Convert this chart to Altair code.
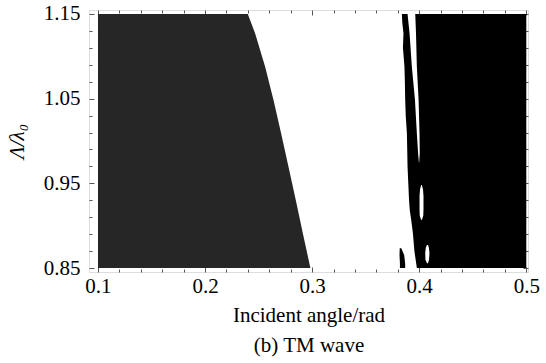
import altair as alt
import pandas as pd

# ---- axis ticks ----
X_TICKS = [0.1, 0.2, 0.3, 0.4, 0.5]
X_MINOR = [0.12, 0.14, 0.16, 0.18, 0.22, 0.24, 0.26, 0.28, 0.32, 0.34, 0.36, 0.38,
           0.42, 0.44, 0.46, 0.48]
Y_TICKS = [0.85, 0.95, 1.05, 1.15]
Y_MINOR = [0.87, 0.89, 0.91, 0.93, 0.97, 0.99, 1.01, 1.03, 1.07, 1.09, 1.11, 1.13]
X_MIN, X_MAX = 0.1, 0.5
X_DOMAIN = [0.0916, 0.5016]
Y_DOMAIN = [0.8453, 1.1547]

# ---- dark (grey) region: from X_MIN to boundary ----
DARK_Y = [0.85, 0.8516, 0.8911, 0.9304, 0.9697, 1.0092, 1.0485, 1.0878, 1.1272, 1.15]
DARK_X = [0.2985, 0.2981, 0.2913, 0.2847, 0.2779, 0.2710, 0.2639, 0.2561, 0.2467, 0.2399]

# ---- black region: from left edge to X_MAX ----
BLACK_Y = [0.85, 0.870, 0.891, 0.907, 0.918, 0.930, 0.950, 0.970, 0.990, 1.009, 1.030,
           1.049, 1.070, 1.088, 1.110, 1.127, 1.140, 1.15]
BLACK_X = [0.3978, 0.3955, 0.3941, 0.3925, 0.3912, 0.3905, 0.3898, 0.3891, 0.3888, 0.3885,
           0.3874, 0.3869, 0.3866, 0.3862, 0.3848, 0.3853, 0.3842, 0.3838]

# ---- white gap and white islands inside black region ----
GAP_Y = [0.9737, 0.985, 1.009, 1.049, 1.088, 1.127, 1.15]
GAP_L = [0.3998, 0.3990, 0.3978, 0.3960, 0.3931, 0.3910, 0.3891]
GAP_R = [0.3999, 0.4005, 0.4003, 0.3994, 0.3978, 0.3970, 0.3963]

ISL1_Y = [0.907, 0.912, 0.920, 0.935, 0.943, 0.948]
ISL1_L = [0.4017, 0.4005, 0.4003, 0.4003, 0.4008, 0.4018]
ISL1_R = [0.4026, 0.4038, 0.4040, 0.4040, 0.4035, 0.4024]

ISL2_Y = [0.8557, 0.860, 0.868, 0.874, 0.8773]
ISL2_L = [0.4072, 0.4058, 0.4056, 0.4062, 0.4072]
ISL2_R = [0.4082, 0.4092, 0.4096, 0.4090, 0.4082]

# ---- small black blob at the bottom ----
BLOB_Y = [0.85, 0.855, 0.865, 0.8734]
BLOB_L = [0.3820, 0.3820, 0.3816, 0.3818]
BLOB_R = [0.3869, 0.3869, 0.3860, 0.3833]

FONT = "Liberation Serif"
FS = 21

dark_df = pd.DataFrame({"y": DARK_Y, "xl": [X_MIN] * len(DARK_Y), "xr": DARK_X})
black_df = pd.DataFrame({"y": BLACK_Y, "xl": BLACK_X, "xr": [X_MAX] * len(BLACK_Y)})
white_df = pd.concat([
    pd.DataFrame({"y": GAP_Y, "xl": GAP_L, "xr": GAP_R, "part": "gap"}),
    pd.DataFrame({"y": ISL1_Y, "xl": ISL1_L, "xr": ISL1_R, "part": "i1"}),
    pd.DataFrame({"y": ISL2_Y, "xl": ISL2_L, "xr": ISL2_R, "part": "i2"}),
], ignore_index=True)
blob_df = pd.DataFrame({"y": BLOB_Y, "xl": BLOB_L, "xr": BLOB_R})

xs = alt.Scale(domain=X_DOMAIN, nice=False, zero=False)
ys = alt.Scale(domain=Y_DOMAIN, nice=False, zero=False)

common_axis = dict(domain=False, grid=False, tickColor="#555555", tickWidth=1)

ax_bottom = alt.Axis(orient="bottom", values=X_TICKS, format=".1f", tickSize=5, offset=-5,
                     labelPadding=3, labelFont=FONT, labelFontSize=FS, labelColor="black",
                     title=["Incident angle/rad", "(b) TM wave"], titleFont=FONT,
                     titleFontSize=FS, titleFontWeight="normal", titleColor="black",
                     titleLineHeight=30, titlePadding=8, **common_axis)
ax_left = alt.Axis(orient="left", values=Y_TICKS, format=".2f", tickSize=5, offset=-5,
                   labelPadding=9, labelFont=FONT, labelFontSize=FS, labelColor="black",
                   title="Λ/λ₀", titleFont=FONT, titleFontSize=FS, titleFontStyle="italic",
                   titleFontWeight="normal", titleColor="black", titlePadding=16,
                   **common_axis)
ax_bottom_minor = alt.Axis(orient="bottom", values=X_MINOR, tickSize=3, offset=-3,
                           labels=False, title=None, **common_axis)
ax_left_minor = alt.Axis(orient="left", values=Y_MINOR, tickSize=3, offset=-3,
                         labels=False, title=None, **common_axis)
ax_top = alt.Axis(orient="top", values=X_TICKS, tickSize=5, offset=-5,
                  labels=False, title=None, **common_axis)
ax_right = alt.Axis(orient="right", values=Y_TICKS, tickSize=5, offset=-5,
                    labels=False, title=None, **common_axis)
ax_top_minor = alt.Axis(orient="top", values=X_MINOR, tickSize=3, offset=-3,
                        labels=False, title=None, **common_axis)
ax_right_minor = alt.Axis(orient="right", values=Y_MINOR, tickSize=3, offset=-3,
                          labels=False, title=None, **common_axis)

dark = alt.Chart(dark_df).mark_area(orient="horizontal", color="#262626").encode(
    y=alt.Y("y:Q", scale=ys, axis=ax_left),
    x=alt.X("xl:Q", scale=xs, axis=ax_bottom, stack=None),
    x2="xr:Q",
)
black = alt.Chart(black_df).mark_area(orient="horizontal", color="#000000").encode(
    y=alt.Y("y:Q", scale=ys, axis=ax_left_minor),
    x=alt.X("xl:Q", scale=xs, axis=ax_bottom_minor, stack=None),
    x2="xr:Q",
)
white = alt.Chart(white_df).mark_area(orient="horizontal", color="#ffffff").encode(
    y=alt.Y("y:Q", scale=ys, axis=ax_right),
    x=alt.X("xl:Q", scale=xs, axis=ax_top, stack=None),
    x2="xr:Q",
    detail="part:N",
)
blob = alt.Chart(blob_df).mark_area(orient="horizontal", color="#000000").encode(
    y=alt.Y("y:Q", scale=ys, axis=ax_right_minor),
    x=alt.X("xl:Q", scale=xs, axis=ax_top_minor, stack=None),
    x2="xr:Q",
)

chart = alt.layer(dark, black, white, blob).resolve_axis(
    x="independent", y="independent"
).properties(
    width=439, height=262,
    padding={"left": 89, "top": 10, "right": 18, "bottom": 91},
    autosize=alt.AutoSizeParams(type="none"),
).configure_view(stroke="#555555", strokeWidth=1).configure(background="white")

chart.save("out.html", embed_options={"renderer": "svg", "actions": False})
